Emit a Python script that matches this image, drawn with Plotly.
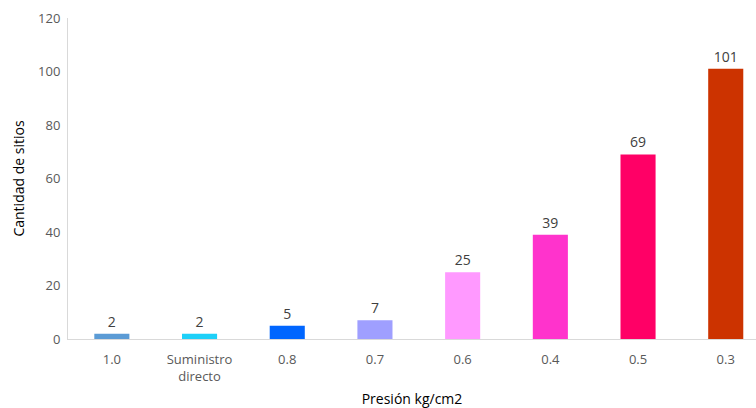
import plotly.graph_objects as go

categories = ["1.0", "Suministro<br>directo", "0.8", "0.7", "0.6", "0.4", "0.5", "0.3"]
sites = [2, 2, 5, 7, 25, 39, 69, 101]
bar_colors = ["#5B9BD5", "#1ED0F8", "#0066FF", "#9F9FFF", "#FF99FF", "#FF33CC", "#FF0066", "#CC3300"]

x_pos = list(range(len(categories)))

fig = go.Figure(
    go.Bar(
        x=x_pos,
        y=sites,
        width=0.4,
        marker=dict(color=bar_colors, line=dict(width=0)),
        text=[str(v) for v in sites],
        textposition="outside",
        cliponaxis=False,
        textfont=dict(family="Open Sans", size=14, color="#404040"),
    )
)

fig.update_layout(
    width=756,
    height=408,
    margin=dict(l=68, r=0, t=18, b=69),
    plot_bgcolor="white",
    paper_bgcolor="white",
    showlegend=False,
    font=dict(family="Open Sans", color="#595959"),
)

fig.update_xaxes(
    tickmode="array",
    tickvals=x_pos,
    ticktext=categories,
    range=[-0.5, 7.345],
    showline=True,
    linecolor="#D9D9D9",
    linewidth=1,
    showgrid=False,
    ticks="outside",
    ticklen=8,
    tickcolor="rgba(0,0,0,0)",
    tickfont=dict(family="Open Sans", size=13, color="#595959"),
    title=dict(text="Presión kg/cm2", font=dict(family="Open Sans", size=14, color="#000000"), standoff=14),
)

fig.update_yaxes(
    range=[0, 120],
    dtick=20,
    showline=True,
    linecolor="#D9D9D9",
    linewidth=1,
    showgrid=False,
    zeroline=False,
    ticks="outside",
    ticklen=4,
    tickcolor="rgba(0,0,0,0)",
    tickfont=dict(family="Open Sans", size=13, color="#595959"),
    title=dict(text="Cantidad de sitios", font=dict(family="Open Sans", size=14, color="#000000"), standoff=10),
)

fig.write_html("out.html")
